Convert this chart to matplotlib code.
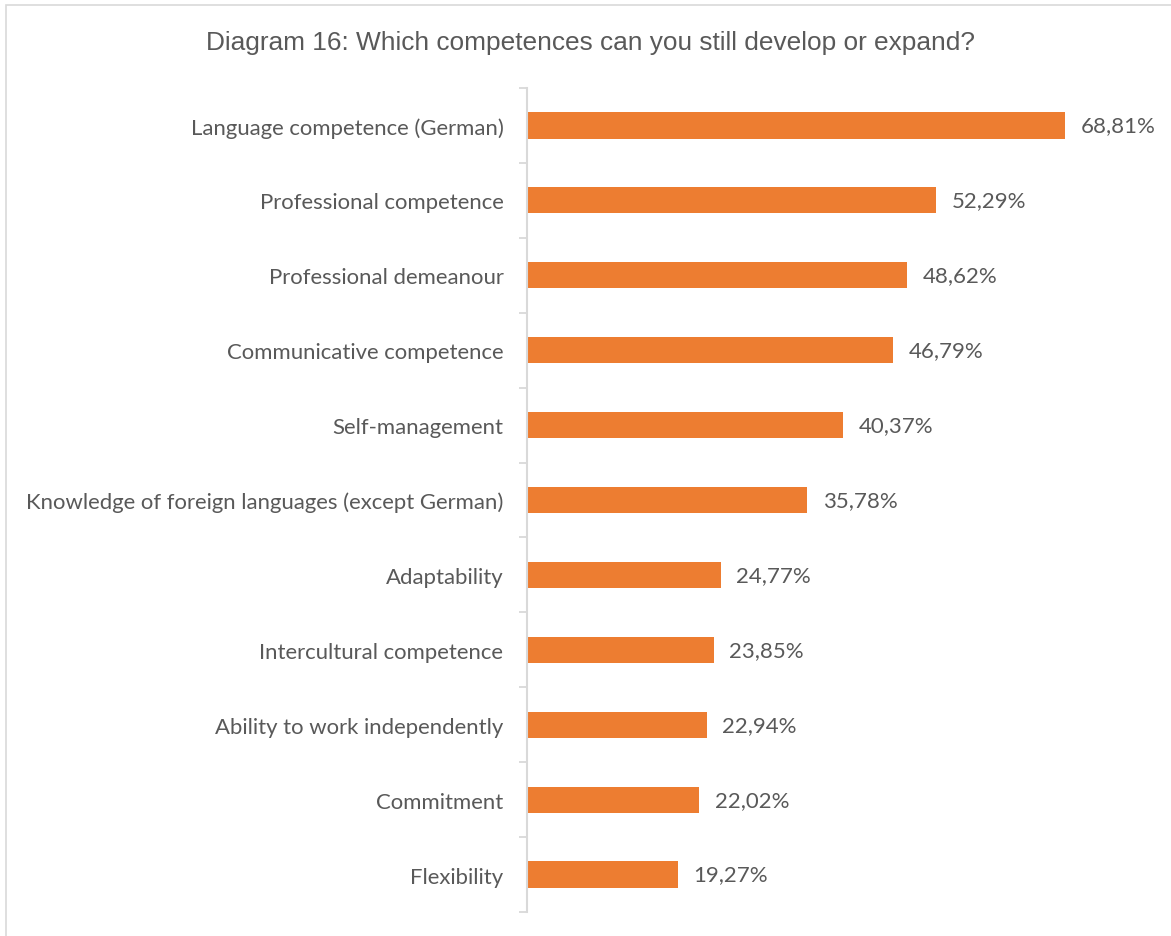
import numpy as np
import matplotlib.pyplot as plt
from matplotlib.patches import Rectangle

categories = ['Language competence (German)', 'Professional competence',
              'Professional demeanour', 'Communicative competence',
              'Self-management', 'Knowledge of foreign languages (except German)',
              'Adaptability', 'Intercultural competence',
              'Ability to work independently', 'Commitment', 'Flexibility']
values = [68.81, 52.29, 48.62, 46.79, 40.37, 35.78, 24.77, 23.85, 22.94, 22.02, 19.27]

bar_color = '#ED7D31'
text_color = '#595959'
grid_color = '#D9D9D9'

fig = plt.figure(figsize=(11.71, 9.37), dpi=100)
ax = fig.add_axes([527/1171, 1 - 913/937, (1153 - 527)/1171, (913 - 89)/937])

y = np.arange(len(categories))[::-1]
ax.barh(y, values, height=0.35, color=bar_color)

for yi, v in zip(y, values):
    ax.text(v + 2, yi, ('%.2f' % v).replace('.', ',') + '%', va='center', ha='left',
            fontsize=16, color=text_color, family='Lato')

ax.set_xlim(0, 80)
ax.set_ylim(-0.5, len(categories) - 0.5)
ax.set_xticks([])
ax.set_yticks(y)
ax.set_yticklabels(categories, fontsize=15.9, color=text_color, family='Lato')
ax.tick_params(axis='y', length=0, pad=17)
# boundary tick marks between categories
ax.set_yticks(np.arange(-0.5, len(categories)), minor=True)
ax.tick_params(axis='y', which='minor', length=6, width=1.3, color=grid_color)

for s in ['top', 'right', 'bottom']:
    ax.spines[s].set_visible(False)
ax.spines['left'].set_color(grid_color)
ax.spines['left'].set_linewidth(1.5)

fig.text(591/1171, 1 - 43/937, 'Diagram 16: Which competences can you still develop or expand?',
         ha='center', va='center', fontsize=18.9, color=text_color, family='Liberation Sans')

# outer chart border
fig.patches.append(Rectangle((6/1171, -0.1), 1.2, 1 - 6/937 + 0.1, transform=fig.transFigure,
                             fill=False, edgecolor=grid_color, linewidth=1.2))

fig.savefig('out.png', dpi=100)
